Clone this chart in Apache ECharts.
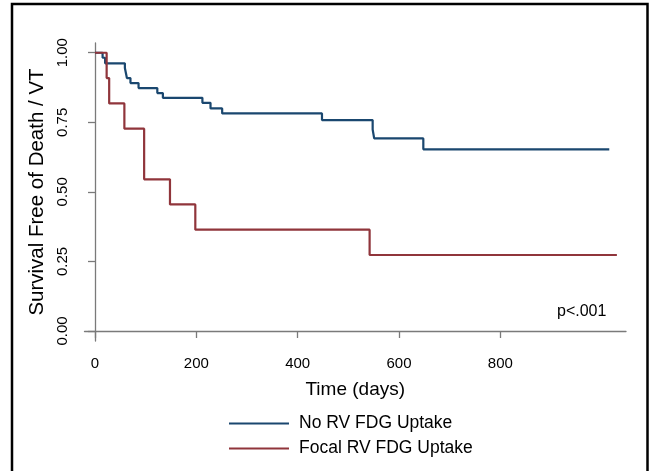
<!DOCTYPE html>
<html>
<head>
<meta charset="utf-8">
<script src="https://cdn.jsdelivr.net/npm/echarts@6/dist/echarts.min.js"></script>
<style>
html,body{margin:0;padding:0;background:#fff;}
#chart{width:653px;height:471px;}
</style>
</head>
<body>
<div id="chart"></div>
<script>
// Kaplan-Meier step data
const seriesNames = ['No RV FDG Uptake', 'Focal RV FDG Uptake'];
const noUptakeDays = [0, 15, 20, 59, 61, 63, 70, 86, 123, 134, 212, 228, 251, 448, 548, 551, 648, 1015];
const noUptakeSurv = [1.0, 0.982, 0.962, 0.945, 0.927, 0.909, 0.891, 0.873, 0.855, 0.838, 0.820, 0.800, 0.782, 0.758, 0.724, 0.692, 0.653, 0.653];
const focalDays = [0, 23, 28, 58, 97, 148, 198, 542, 1030];
const focalSurv = [1.0, 0.909, 0.818, 0.727, 0.545, 0.455, 0.364, 0.273, 0.273];
const xTicks = [0, 200, 400, 600, 800];
const yTicks = [0, 0.25, 0.5, 0.75, 1.0];
const pText = 'p<.001';

const FONT = '"Liberation Sans", Arial, sans-serif';
const zip = (a, b) => a.map((v, i) => [v, b[i]]);

const chart = echarts.init(document.getElementById('chart'), null, {renderer: 'canvas'});
chart.setOption({
  animation: false,
  backgroundColor: '#fff',
  grid: {left: 84.5, right: 27, top: 43, bottom: 130, containLabel: false},
  xAxis: {
    type: 'value', min: -20.7, max: 1048,
    name: 'Time (days)', nameLocation: 'middle', nameGap: 39,
    nameTextStyle: {fontFamily: FONT, fontSize: 19, color: '#000'},
    axisLine: {show: true, lineStyle: {color: '#7a7a7a', width: 1.3}},
    axisTick: {show: true, length: 7, customValues: xTicks, lineStyle: {color: '#7a7a7a', width: 1.3}},
    axisLabel: {customValues: xTicks, margin: 15, fontFamily: FONT, fontSize: 15, color: '#000',
      formatter: v => String(v)},
    splitLine: {show: false}
  },
  yAxis: {
    type: 'value', min: -0.036, max: 1.035,
    name: 'Survival Free of Death / VT', nameLocation: 'middle', nameGap: 35,
    nameTextStyle: {fontFamily: FONT, fontSize: 20.5, color: '#000'},
    axisLine: {show: true, lineStyle: {color: '#7a7a7a', width: 1.3}},
    axisTick: {show: true, length: 7, customValues: yTicks, lineStyle: {color: '#7a7a7a', width: 1.3}},
    axisLabel: {customValues: yTicks, rotate: 90, margin: 14, fontFamily: FONT, fontSize: 15, color: '#000',
      formatter: v => v.toFixed(2)},
    splitLine: {show: false}
  },
  legend: {
    orient: 'vertical', left: 229, top: 414.5, padding: 0,
    itemWidth: 60, itemHeight: 2, itemGap: 7,
    icon: 'rect',
    textStyle: {fontFamily: FONT, fontSize: 17.5, color: '#000', lineHeight: 17, padding: [0, 0, 0, 5]},
    data: seriesNames
  },
  series: [
    {name: seriesNames[0], type: 'line', step: 'end', showSymbol: false, symbol: 'none',
     data: zip(noUptakeDays, noUptakeSurv), color: '#1a476f',
     lineStyle: {color: '#1a476f', width: 2.2}},
    {name: seriesNames[1], type: 'line', step: 'end', showSymbol: false, symbol: 'none',
     data: zip(focalDays, focalSurv), color: '#90353b',
     lineStyle: {color: '#90353b', width: 2.2}}
  ],
  graphic: [
    {type: 'rect', shape: {x: 12, y: 4, width: 635.5, height: 520}, style: {fill: 'none', stroke: '#000', lineWidth: 2.5}, silent: true},
    {type: 'text', left: 557, top: 304, style: {text: pText, font: '16px ' + FONT, fill: '#000'}}
  ]
});
</script>
</body>
</html>
